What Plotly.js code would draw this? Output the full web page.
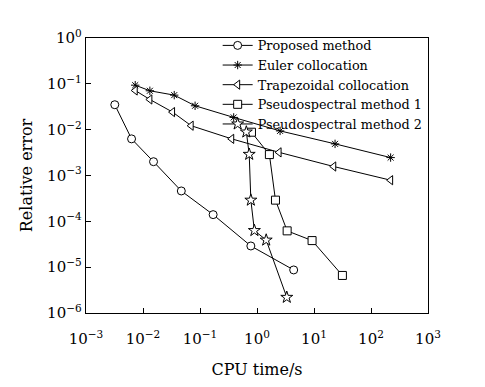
<!DOCTYPE html>
<html>
<head>
<meta charset="utf-8">
<script src="https://cdn.plot.ly/plotly-3.0.1.min.js"></script>
<style>html,body{margin:0;padding:0;background:#fff}#chart{width:485px;height:387px}</style>
</head>
<body>
<div id="chart"></div>
<script>
// Series data (CPU time in s, relative error)
const proposedTime = [0.0032, 0.0063, 0.0153, 0.047, 0.17, 0.78, 4.4];
const proposedErr  = [0.035, 0.0063, 0.0020, 0.00046, 0.00014, 2.9e-5, 8.7e-6];

const eulerTime = [0.0073, 0.0132, 0.0353, 0.082, 0.39, 2.54, 23.4, 221];
const eulerErr  = [0.0935, 0.0705, 0.0567, 0.0332, 0.0185, 0.0094, 0.0049, 0.00246];

const trapTime = [0.0073, 0.0132, 0.033, 0.070, 0.36, 2.44, 22.2, 221];
const trapErr  = [0.0716, 0.0456, 0.0242, 0.0122, 0.0063, 0.0032, 0.00157, 0.00079];

const ps1Time = [0.80, 1.65, 2.11, 3.38, 9.25, 31.5];
const ps1Err  = [0.0088, 0.00286, 0.00029, 6.2e-5, 3.8e-5, 6.6e-6];

const ps2Time = [0.65, 0.73, 0.78, 0.90, 1.45, 3.33];
const ps2Err  = [0.0089, 0.0029, 0.00029, 6.3e-5, 3.9e-5, 2.2e-6];

const seriesNames = ["Proposed method", "Euler collocation", "Trapezoidal collocation",
                     "Pseudospectral method 1", "Pseudospectral method 2"];

const xTickVals = [1e-3, 1e-2, 1e-1, 1e0, 1e1, 1e2, 1e3];
const xTickText = ["10<sup>\u22123</sup>", "10<sup>\u22122</sup>", "10<sup>\u22121</sup>", "10<sup>0</sup>",
                   "10<sup>1</sup>", "10<sup>2</sup>", "10<sup>3</sup>"];
const yTickVals = [1e-6, 1e-5, 1e-4, 1e-3, 1e-2, 1e-1, 1e0];
const yTickText = ["10<sup>\u22126</sup>", "10<sup>\u22125</sup>", "10<sup>\u22124</sup>", "10<sup>\u22123</sup>",
                   "10<sup>\u22122</sup>", "10<sup>\u22121</sup>", "10<sup>0</sup>"];

const FONT = "DejaVu Serif";

function mk(x, y, name, symbol, size, fill) {
  return {
    x: x, y: y, name: name, type: "scatter", mode: "lines+markers",
    line: {color: "#000", width: 1},
    marker: {symbol: symbol, size: size, color: fill, line: {color: "#000", width: 1}}
  };
}

const traces = [
  mk(proposedTime, proposedErr, seriesNames[0], "circle", 8, "#fff"),
  mk(eulerTime, eulerErr, seriesNames[1], "asterisk-open", 7, "#000"),
  mk(trapTime, trapErr, seriesNames[2], "triangle-left", 8, "#fff"),
  mk(ps1Time, ps1Err, seriesNames[3], "square", 8, "#fff"),
  mk(ps2Time, ps2Err, seriesNames[4], "star", 9, "#fff")
];

const layout = {
  width: 485, height: 387,
  margin: {l: 86, r: 57, t: 38, b: 74},
  paper_bgcolor: "#fff", plot_bgcolor: "#fff",
  font: {family: FONT, color: "#000", size: 14},
  showlegend: true,
  legend: {
    x: 0.385, y: 1.027, xanchor: "left", yanchor: "top",
    bgcolor: "rgba(0,0,0,0)", borderwidth: 0,
    font: {family: FONT, size: 12.8, color: "#000"},
    tracegroupgap: 0
  },
  xaxis: {
    type: "log", range: [-3, 3],
    tickvals: xTickVals, ticktext: xTickText,
    ticks: "inside", ticklen: 5, tickcolor: "#000", tickwidth: 1,
    showline: true, linecolor: "#000", linewidth: 1.3, mirror: true,
    showgrid: false, zeroline: false,
    ticklabelstandoff: 12,
    tickfont: {family: FONT, size: 15, color: "#000"},
    title: {text: "CPU time/s", font: {family: FONT, size: 16, color: "#000"}, standoff: 16}
  },
  yaxis: {
    type: "log", range: [-6, 0],
    tickvals: yTickVals, ticktext: yTickText,
    ticks: "inside", ticklen: 5, tickcolor: "#000", tickwidth: 1,
    showline: true, linecolor: "#000", linewidth: 1.3, mirror: true,
    showgrid: false, zeroline: false,
    tickfont: {family: FONT, size: 15, color: "#000"},
    title: {text: "Relative error", font: {family: FONT, size: 16, color: "#000"}, standoff: 10}
  }
};

Plotly.newPlot("chart", traces, layout, {displayModeBar: false, staticPlot: true});
</script>
</body>
</html>
